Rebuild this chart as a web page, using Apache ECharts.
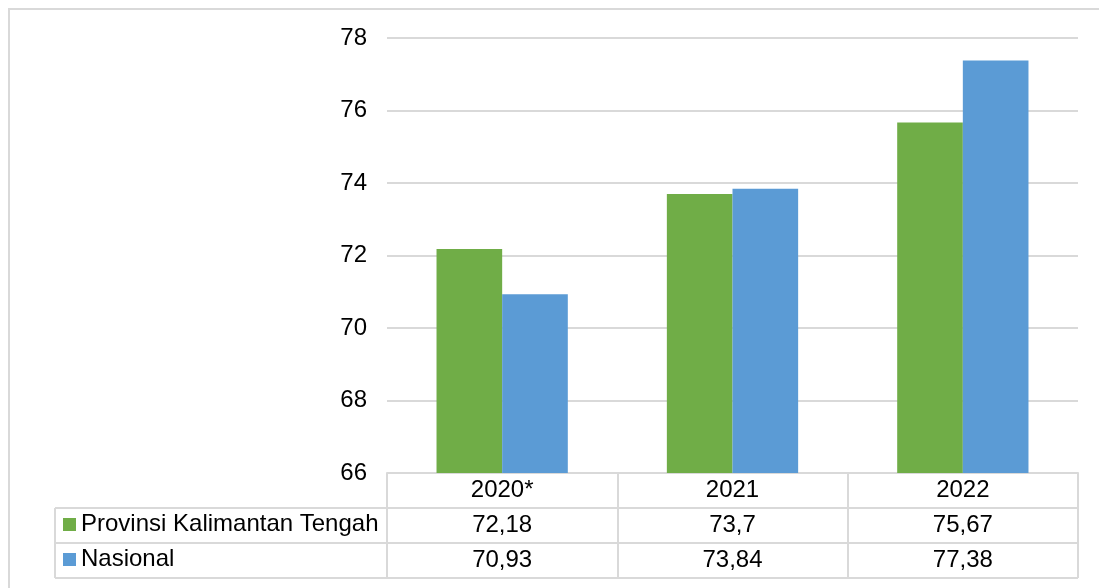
<!DOCTYPE html>
<html>
<head>
<meta charset="utf-8">
<script src="https://cdn.jsdelivr.net/npm/echarts@6/dist/echarts.min.js"></script>
<style>
  html, body { margin: 0; padding: 0; background: #fff; }
  #chart { width: 1099px; height: 588px; }
</style>
</head>
<body>
<div id="chart"></div>
<script>
const categories = ['2020*', '2021', '2022']
const seriesNames = ['Provinsi Kalimantan Tengah', 'Nasional']
const provinsi = [72.18, 73.7, 75.67]
const nasional = [70.93, 73.84, 77.38]
const yTicks = { min: 66, max: 78, interval: 2 }

const fontFamily = "'Liberation Sans', Arial, sans-serif"
const lineCol = '#d9d9d9'
const fmt = v => String(v).replace('.', ',')

// table geometry (pixels)
const gl = 387, gr = 1078, gTop = 38, gBot = 473
const tabLeft = 55, rowH = 35

const legendStyle = {
  padding: 0, left: 63, icon: 'rect', itemWidth: 13, itemHeight: 13,
  textStyle: { fontSize: 24, color: '#000', fontFamily: fontFamily }
}

const chart = echarts.init(document.getElementById('chart'))
chart.setOption({
  animation: false,
  textStyle: { fontFamily: fontFamily },
  grid: { left: gl, right: 1099 - gr, top: gTop, bottom: 588 - gBot, containLabel: false },
  legend: [
    Object.assign({ data: [seriesNames[0]], top: gBot + rowH * 1.5 - 13 }, legendStyle),
    Object.assign({ data: [seriesNames[1]], top: gBot + rowH * 2.5 - 13 }, legendStyle)
  ],
  xAxis: {
    type: 'category',
    data: categories,
    axisLine: { show: true, lineStyle: { color: lineCol, width: 2 } },
    axisTick: { show: true, length: rowH * 3, lineStyle: { color: lineCol, width: 2 } },
    axisLabel: {
      margin: 0,
      fontSize: 24,
      color: '#000',
      lineHeight: rowH,
      formatter: (v, i) => v + '\n' + fmt(provinsi[i]) + '\n' + fmt(nasional[i])
    }
  },
  yAxis: {
    type: 'value',
    min: yTicks.min, max: yTicks.max, interval: yTicks.interval,
    axisLine: { show: false },
    axisTick: { show: false },
    axisLabel: { fontSize: 24, color: '#000', margin: 20 },
    splitLine: { lineStyle: { color: lineCol, width: 2 } }
  },
  series: [
    { name: seriesNames[0], type: 'bar', data: provinsi, barGap: '0%', barCategoryGap: '43%', itemStyle: { color: '#70ad47' } },
    { name: seriesNames[1], type: 'bar', data: nasional, itemStyle: { color: '#5b9bd5' } }
  ],
  graphic: [
    { type: 'rect', shape: { x: 9, y: 9, width: 1300, height: 800 }, style: { fill: 'none', stroke: lineCol, lineWidth: 2 }, silent: true },
    { type: 'line', shape: { x1: tabLeft, y1: gBot + rowH, x2: gr, y2: gBot + rowH }, style: { stroke: lineCol, lineWidth: 2 } },
    { type: 'line', shape: { x1: tabLeft, y1: gBot + rowH * 2, x2: gr, y2: gBot + rowH * 2 }, style: { stroke: lineCol, lineWidth: 2 } },
    { type: 'line', shape: { x1: tabLeft, y1: gBot + rowH * 3, x2: gr, y2: gBot + rowH * 3 }, style: { stroke: lineCol, lineWidth: 2 } },
    { type: 'line', shape: { x1: tabLeft, y1: gBot + rowH, x2: tabLeft, y2: gBot + rowH * 3 }, style: { stroke: lineCol, lineWidth: 2 } }
  ]
})
</script>
</body>
</html>
